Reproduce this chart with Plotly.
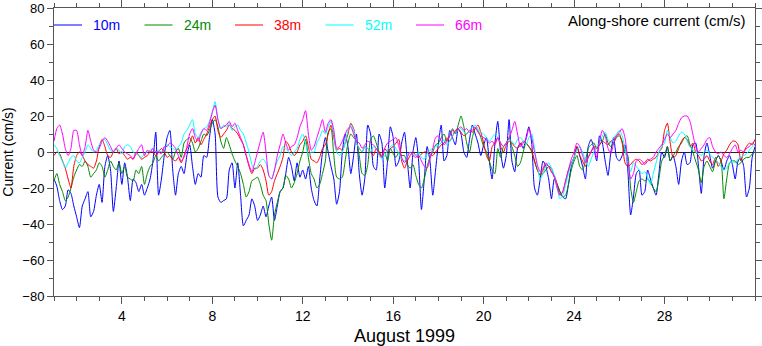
import numpy as np
import plotly.graph_objects as go

# Along-shore current at five depths, sampled every 3 hours
# from 1 Aug 1999 00:00 to 1 Sep 1999 00:00 (cm/s).
SAMPLES_PER_DAY = 8

cur_10m = [
    -15, -19, -27, -32, -30, -21, -23, -30,
    -36, -42, -30, -26, -22, -36, -33, -24,
    -18, -28, -8, -2, -10, -33, -20, -5,
    -18, -6, -14, -27, -15, -17, -22, -18,
    -24, -20, -15, -5, 11, -24, -15, -2,
    8, 12, -10, -24, -12, -8, -12, -2,
    4, -8, -18, -12, -14, -2, -3, 8,
    18, 10, -25, -28, -27, -26, -10, -6,
    -20, -6, -24, -41, -38, -35, -26, -30,
    -38, -35, -30, -36, -30, -25, -38, -30,
    -22, -20, -12, -3, -8, -16, -6, -14,
    -10, -15, -8, -20, -27, -30, -15, 0,
    8, 0, -8, -15, -29, -22, 0, 10,
    3, -12, -2, 10, -12, -24, -14, 15,
    10, -8, -10, 10, 5, -20, -5, 14,
    8, -8, -5, 5, 11, -5, -20, 0,
    8, -5, -32, -15, 3, -5, -24, -10,
    5, 15, -5, -2, 12, 8, 4, 13,
    10, 0, -3, 7, 15, 10, 5, -2,
    4, 8, -5, -15, 5, 17, 0, -9,
    -2, 18, -5, -11, 2, 5, 2, 8,
    14, 5, -20, -24, -15, -5, -8, -15,
    -26, -15, -18, -22, -25, -26, -18, -8,
    -3, 3, -2, -8, -15, 3, 7, 2,
    -5, 9, 5, -5, -13, 0, 8, -3,
    -5, -2, 4, -10, -35, -25, -12, -10,
    -24, -22, -10, -15, -20, -24, -12, 0,
    -3, 3, -5, -2, -8, -18, -5, 0,
    -7, -6, 4, 5, -8, -23, -2, 5,
    -2, -9, -5, -2, -5, -10, -5, -2,
    -7, -15, -5, -3, -8, -25, -20, -3,
    3,
]

cur_24m = [
    -16, -12, -18, -22, -27, -25, -20, -14,
    -10, -7, -8, -5, -8, -14, -12, -10,
    -6, -8, -14, -10, -5, -8, -10, -6,
    -12, -8, -14, -15, -16, -10, -12, -8,
    -18, -12, -8, -6, -2, -5, -3, -1,
    0, -2, -4, 0, 2, -3, 5, 7,
    8, 5, 0, 2, 6, 10, 9, 12,
    16, 18, 14, 6, 2, 8, 4, -1,
    -5, -8, -12, -18, -25, -22, -16, -15,
    -14, -18, -24, -27, -40, -49, -35, -28,
    -22, -20, -13, -15, -20, -17, -12, -5,
    0, 7, -3, -12, -15, -20, -18, -12,
    -5, 11, 13, -2, -14, -15, -14, -5,
    5, 10, 8, 6, -2, -12, -13, -7,
    7, 9, 5, 0, -3, 0, -5, 2,
    -1, -3, 0, -2, -2, -7, -9, -7,
    -13, -18, -20, -15, -8, -3, 0, 4,
    5, 8, 10, 6, 9, 13, 10, 15,
    20, 14, 5, 0, 8, 13, 12, 8,
    3, 0, -5, -10, -12, 2, -3, 3,
    5, 8, 3, -2, -8, -6, 0, 5,
    3, 0, -5, -10, -13, -12, -10, -8,
    -9, -14, -18, -22, -25, -24, -18, -10,
    -5, -2, -8, -10, -5, 2, 4, 5,
    2, 4, 6, 10, 5, 3, 5, 8,
    9, 6, 0, -2, -20, -28, -22, -16,
    -15, -16, -15, -17, -20, -22, -15, -5,
    -2, 3, -5, -2, 0, 3, 5, 8,
    9, 4, 0, -5, -10, -17, -8, -5,
    -8, -11, -5, -2, -5, -26, -15, -6,
    -5, -5, -7, -6, -4, -3, -3, -1,
    0,
]

cur_38m = [
    -2, 0, -1, -5, -9, -15, -20, -8,
    -2, 0, -2, -5, -7, -8, -9, -5,
    3, 7, 3, -2, -3, 0, 2, -1,
    0, -2, -4, -3, -4, 0, -2, -4,
    -3, -2, 0, 0, -2, 0, 2, 0,
    -3, -2, -4, -5, -3, -6, -2, 2,
    5, 9, 5, 8, 4, 7, 10, 14,
    18, 20, 12, 8, 10, 12, 15, 13,
    12, 10, 7, 4, -2, -8, -12, -9,
    -9, -7, -10, -16, -24, -22, -16, -12,
    -8, -3, 6, 4, 0, -2, 0, 4,
    6, 9, 3, -4, -5, -6, -3, 2,
    4, 10, 15, 8, 1, 2, 1, 5,
    10, 16, 13, 5, 2, 0, 3, 2,
    0, -2, 2, 0, -2, 2, 0, 2,
    3, 5, 7, -5, -9, -5, -2, 0,
    -2, -3, -1, 0, 0, -1, -2, 0,
    2, 4, 5, 8, 6, 9, 12, 13,
    11, 9, 10, 12, 11, 13, 15, 11,
    5, -2, -5, 3, 5, 8, 3, 0,
    4, 6, 5, 3, 2, 4, 6, 5,
    3, 1, -5, -10, -13, -10, -7, -8,
    -11, -13, -18, -24, -22, -16, -10, -6,
    -3, 3, -2, -5, -8, -3, 0, 3,
    2, 4, 6, 5, 4, 6, 7, 9,
    10, 5, -6, -8, -7, -5, -4, -5,
    -7, -6, -4, -5, -4, -3, 0, 2,
    12, 16, 5, -3, -2, 2, 6, 8,
    7, 3, 5, 0, -2, -5, -4, -2,
    -5, -7, -3, -8, -5, -1, 1, 4,
    6, 6, 4, -5, 0, 3, 5, 4,
    7,
]

cur_52m = [
    4, 2, -2, -5, -9, -6, -3, -2,
    -5, -6, -3, 0, 4, 2, 0, 1,
    4, 6, 7, 4, 1, 0, 2, 1,
    -1, 3, 4, 3, 0, -1, -2, -3,
    -1, 0, 1, 2, 0, 1, 0, 2,
    4, 3, 2, 1, 3, 5, 10, 12,
    15, 18, 10, 8, 11, 13, 14, 17,
    22, 28, 18, 13, 15, 14, 16, 12,
    14, 15, 12, 10, 5, 0, -7, -10,
    -8, -5, -4, -6, -13, -15, -10, -5,
    -2, 3, 2, 0, -2, 0, 2, 7,
    10, 5, -2, 0, 0, 5, 8, 12,
    10, 14, 17, 10, 0, -2, 0, 5,
    12, 15, 12, 5, 2, 0, 3, 2,
    0, 3, 2, -2, -4, -2, 1, 3,
    4, 2, -1, -4, -5, -2, 0, -2,
    -2, 0, -3, -4, -1, 1, 2, 3,
    4, 5, 7, 4, 6, 9, 11, 12,
    13, 11, 10, 12, 14, 15, 13, 11,
    10, 8, 6, 8, 10, 8, 5, 3,
    5, 7, 6, 4, 7, 8, 6, 4,
    8, 10, 2, -8, -15, -12, -8, -6,
    -9, -13, -20, -26, -24, -18, -12, -7,
    -3, 1, 3, 0, -5, -8, -4, 0,
    3, 5, 9, 11, 7, 5, 8, 10,
    12, 9, 2, -6, -11, -6, -8, -10,
    -12, -11, -14, -18, -12, -6, 0, 3,
    5, 12, 8, 5, 6, 9, 11, 10,
    6, 3, 1, 0, -1, -2, 0, 1,
    -1, -3, -4, -6, -8, -10, -9, -6,
    -5, -6, -4, -3, -2, -1, 1, 3,
    4,
]

cur_66m = [
    6, 13, 15, 10, 2, -2, 2, 12,
    12, 4, -2, 3, 12, 6, 1, 0,
    2, 6, 8, 6, 3, 0, 2, 4,
    2, 0, -1, -2, -4, -1, 2, 4,
    -2, 1, 0, 2, 0, 0, -1, 3,
    3, 5, 4, 2, -2, -5, -3, 3,
    10, 13, 8, 6, 10, 13, 12, 16,
    22, 26, 18, 13, 14, 15, 17, 14,
    16, 12, 8, 4, -2, -7, -11, -6,
    0, 6, 11, 0, -13, -15, -10, -2,
    4, 10, 5, 1, 3, 4, 8, 14,
    18, 23, 10, 1, 3, 8, 13, 18,
    11, 16, 18, 12, 2, 3, 6, 10,
    13, 14, 10, 6, 5, 2, 4, 6,
    5, 4, 2, -1, -3, 2, 5, 6,
    7, 8, 3, -3, -6, -3, 0, -2,
    -3, -2, -5, -8, -9, -4, 2, 8,
    9, 6, 4, 6, 9, 12, 11, 13,
    14, 12, 13, 11, 12, 14, 11, 9,
    8, 7, 5, 6, 4, 8, 5, 3,
    5, 8, 12, 17, 10, 3, 5, 7,
    13, 8, 0, -7, -11, -9, -6, -8,
    -11, -14, -20, -24, -22, -16, -10, -4,
    0, 5, 3, -2, -6, -3, 0, 3,
    -3, 6, 12, 9, 2, -1, 5, 9,
    11, 13, 8, -4, -15, -12, -5, -4,
    -5, -7, -5, -4, -3, 0, 2, 4,
    7, 10, 8, 10, 12, 16, 19, 20,
    20, 17, 10, 3, 0, 2, 4, 7,
    8, 3, 0, -1, 0, -2, -3, -1,
    2, 4, 0, 1, 0, 2, 3, 5,
    4,
]

depth_labels = ["10m", "24m", "38m", "52m", "66m"]
series = [cur_10m, cur_24m, cur_38m, cur_52m, cur_66m]
colors = ["#0000FF", "#008A00", "#FF0000", "#00FFFF", "#FF00FF"]

x_tick_vals = [4, 8, 12, 16, 20, 24, 28]
y_tick_vals = [-80, -60, -40, -20, 0, 20, 40, 60, 80]

day = 1 + np.arange(len(cur_10m)) / SAMPLES_PER_DAY

FONT = "Liberation Sans, Arial, Helvetica, sans-serif"
AXIS_COLOR = "#555555"

fig = go.Figure()
for label, values, color in zip(depth_labels, series, colors):
    fig.add_trace(go.Scatter(
        x=day, y=values, mode="lines", name=label,
        line=dict(color=color, width=1, shape="spline", smoothing=0.6),
        showlegend=False,
    ))

# Hand-placed key across the top of the plot: short line sample + coloured label
PLOT_L, PLOT_R, PLOT_T, PLOT_B = 54, 755, 8, 296
def px_to_paper_x(px):
    return (px - PLOT_L) / (PLOT_R - PLOT_L)
def px_to_paper_y(py):
    return (PLOT_B - py) / (PLOT_B - PLOT_T)

key_y = px_to_paper_y(25)
key_step = 90.5
for i, (label, color) in enumerate(zip(depth_labels, colors)):
    x0 = PLOT_L + i * key_step
    fig.add_shape(type="line", xref="paper", yref="paper",
                  x0=px_to_paper_x(x0), x1=px_to_paper_x(x0 + 28),
                  y0=key_y, y1=key_y, line=dict(color=color, width=1))
    fig.add_annotation(xref="paper", yref="paper",
                       x=px_to_paper_x(x0 + 37), y=key_y,
                       xanchor="left", yanchor="middle", showarrow=False,
                       text=label, font=dict(family=FONT, size=14, color=color))

fig.add_annotation(xref="paper", yref="paper",
                   x=px_to_paper_x(748), y=px_to_paper_y(21),
                   xanchor="right", yanchor="middle", showarrow=False,
                   text="Along-shore current (cm/s)",
                   font=dict(family=FONT, size=15, color="black"))

fig.update_layout(
    width=762, height=346,
    margin=dict(l=PLOT_L, r=762 - PLOT_R, t=PLOT_T, b=346 - PLOT_B),
    paper_bgcolor="white", plot_bgcolor="white",
    font=dict(family=FONT, size=14, color="black"),
)

fig.update_xaxes(
    range=[1, 32], tickmode="array", tickvals=x_tick_vals, automargin=False,
    ticklabeloverflow="allow",
    ticks="outside", ticklen=7, tickwidth=1, tickcolor=AXIS_COLOR,
    showline=True, linecolor=AXIS_COLOR, linewidth=1, mirror="allticks",
    showgrid=False, zeroline=False,
    minor=dict(tick0=0, dtick=1, ticks="outside", ticklen=4,
               tickcolor=AXIS_COLOR, showgrid=False),
    tickfont=dict(size=14),
    title=dict(text="August 1999", font=dict(size=18), standoff=10),
)
fig.update_yaxes(
    range=[-80, 80], tickmode="array", tickvals=y_tick_vals, automargin=False,
    ticklabeloverflow="allow",
    ticks="outside", ticklen=6, tickwidth=1, tickcolor=AXIS_COLOR,
    showline=True, linecolor=AXIS_COLOR, linewidth=1, mirror="allticks",
    showgrid=False, zeroline=True, zerolinecolor="#222222", zerolinewidth=1.2,
    minor=dict(tick0=0, dtick=10, ticks="outside", ticklen=4,
               tickcolor=AXIS_COLOR, showgrid=False),
    tickfont=dict(size=13),
    title=dict(text="Current (cm/s)", font=dict(size=14), standoff=6),
)

fig.write_html("out.html")
